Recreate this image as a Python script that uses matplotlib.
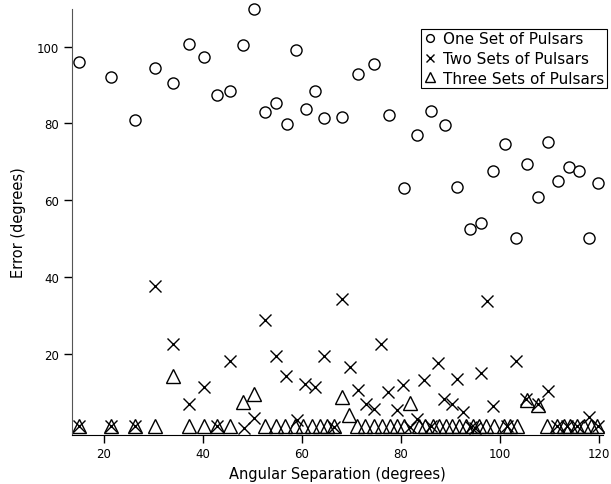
import matplotlib
matplotlib.use('Agg')
import matplotlib.pyplot as plt

plt.rcParams['font.family'] = ['DejaVu Sans']

# 一组脉冲星（误差，度）
one_x = [15.0, 21.4, 26.3, 30.3, 33.9, 37.2, 40.2, 42.9, 45.5, 48.0,
         50.3, 52.6, 54.8, 56.9, 58.8, 60.8, 62.7, 64.5, 68.0, 71.4,
         74.6, 77.5, 80.6, 83.2, 86.1, 88.8, 91.3, 93.9, 96.2, 98.6,
         100.9, 103.3, 105.5, 107.6, 109.6, 111.8, 113.9, 115.9, 118.0, 119.8]
one_y = [96.1, 92.2, 81.0, 94.5, 90.5, 100.8, 97.3, 87.3, 88.4, 100.4,
         109.8, 82.9, 85.3, 79.9, 99.1, 83.7, 88.5, 81.4, 81.6, 92.9,
         95.6, 82.1, 63.2, 77.1, 83.3, 79.7, 63.6, 52.5, 54.2, 67.6,
         74.7, 50.1, 69.4, 60.9, 75.2, 65.0, 68.8, 67.6, 50.1, 64.4]

# 两组脉冲星
two_x = [15.0, 21.4, 26.3, 30.3, 33.9, 37.2, 40.2, 42.9, 45.5, 48.2,
         50.4, 52.6, 54.8, 56.8, 58.9, 60.7, 62.6, 64.5, 66.4, 68.1,
         69.7, 71.3, 72.9, 74.6, 76.0, 77.4, 79.1, 80.5, 81.9, 83.2,
         84.7, 86.0, 87.4, 88.7, 90.2, 91.3, 92.5, 94.1, 94.9, 96.2,
         97.4, 98.5, 101.5, 103.3, 105.3, 107.7, 109.7, 111.5, 113.5, 115.5,
         118.0, 119.8]
two_y = [1.2, 1.2, 1.2, 37.6, 22.7, 7.0, 11.5, 1.3, 18.2, 0.8,
         3.4, 28.8, 19.4, 14.3, 2.8, 12.2, 11.5, 19.4, 1.1, 34.3,
         16.6, 10.7, 7.0, 5.7, 22.6, 10.1, 5.5, 12.0, 1.0, 3.0,
         13.3, 1.2, 17.6, 8.3, 6.9, 13.6, 5.0, 1.0, 0.8, 15.0,
         33.9, 6.6, 1.2, 18.3, 8.3, 7.0, 10.3, 1.2, 1.2, 1.2,
         3.6, 1.2]

# 三组脉冲星
three_x = [15.0, 21.4, 26.3, 30.3, 33.9, 37.2, 40.2, 42.9, 45.5, 48.1,
           50.4, 52.6, 54.7, 56.6, 58.6, 60.3, 62.0, 63.7, 65.0, 66.4,
           68.1, 69.6, 71.1, 72.8, 74.5, 76.2, 77.8, 79.2, 80.7, 81.9,
           83.6, 84.9, 86.4, 87.6, 89.0, 90.3, 91.8, 93.1, 94.5, 95.8,
           97.2, 98.7, 100.7, 102.1, 103.4, 105.5, 107.7, 109.5, 111.5, 112.9,
           114.2, 115.6, 116.9, 118.3, 119.6]
three_y = [1.2, 1.2, 1.2, 1.2, 14.2, 1.2, 1.2, 1.2, 1.2, 7.6,
           9.5, 1.2, 1.2, 1.2, 1.2, 1.2, 1.2, 1.2, 1.2, 1.2,
           8.8, 4.2, 1.2, 1.2, 1.2, 1.2, 1.2, 1.2, 1.2, 7.2,
           1.2, 1.2, 1.2, 1.2, 1.2, 1.2, 1.2, 1.2, 1.2, 1.2,
           1.2, 1.2, 1.2, 1.2, 1.2, 8.0, 6.7, 1.2, 1.2, 1.2,
           1.2, 1.2, 1.2, 1.2, 1.2]

fig = plt.figure(figsize=(6.11, 4.85), dpi=100)
ax = fig.add_axes([0.1173, 0.1016, 0.8697, 0.8778])

ax.plot(one_x, one_y, 'o', ms=8, mfc='white', mec='black', mew=1.0,
        clip_on=False, label='One Set of Pulsars')
ax.plot(two_x, two_y, 'x', ms=9, color='black', mew=1.0,
        clip_on=False, label='Two Sets of Pulsars')
ax.plot(three_x, three_y, '^', ms=10.5, mfc='none', mec='black', mew=1.0,
        clip_on=False, label='Three Sets of Pulsars')

ax.set_xlim(13.5, 120.8)
ax.set_ylim(-1, 109.8)
ax.set_xticks([20, 40, 60, 80, 100, 120])
ax.set_yticks([20, 40, 60, 80, 100])
ax.tick_params(direction='out', length=6, width=1, labelsize=8.5, pad=3)

for s in ['top', 'right']:
    ax.spines[s].set_visible(False)
ax.spines['left'].set_color('#555555')
ax.spines['bottom'].set_color('black')

ax.set_xlabel('Angular Separation (degrees)', fontsize=10.5, labelpad=4)
ax.set_ylabel('Error (degrees)', fontsize=10.5, labelpad=8)

leg = fig.legend(loc='upper right', bbox_to_anchor=(0.9935, 0.938),
                 fontsize=11, markerscale=0.7, frameon=True, fancybox=False,
                 edgecolor='black', framealpha=1, borderpad=0.15,
                 labelspacing=0.3, handlelength=0.8, handletextpad=0.5,
                 borderaxespad=0)
leg.get_frame().set_linewidth(0.8)

plt.savefig('out.png', dpi=100)
